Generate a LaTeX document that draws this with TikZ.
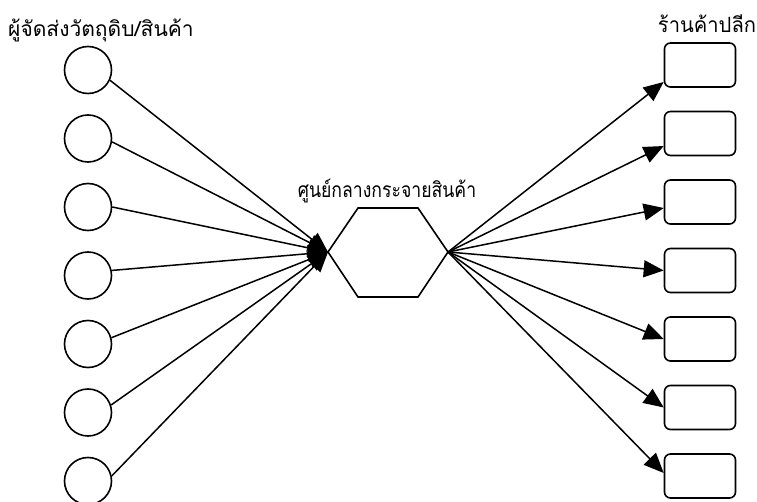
\documentclass[tikz,border=0pt]{standalone}
\usepackage{fontspec}
\newfontfamily\thaifont[Script=Thai]{Loma}
\usetikzlibrary{arrows.meta,calc}
\tikzset{
  src/.style={draw,circle,line width=1.6pt,minimum size=47pt,inner sep=0pt},
  shop/.style={draw,rounded corners=6pt,line width=1.6pt,minimum width=71pt,minimum height=44pt,inner sep=0pt},
  hexline/.style={line width=1.6pt},
  conn/.style={line width=1.5pt,-{Triangle[length=20pt,width=17pt]}},
  lbl/.style={font=\thaifont\fontsize{21}{24}\selectfont,anchor=base,inner sep=0pt}
}
\begin{document}
\begin{tikzpicture}[x=1pt,y=-1pt]
\useasboundingbox (0,0) rectangle (757,502);
% labels
\node[lbl] (tsrc) at (101,37) {ผู้จัดส่งวัตถุดิบ/สินค้า};
\node[lbl] (tshop) at (707,33) {\scalebox{0.96}[1]{ร้านค้าปลีก}};
\node[lbl] (thub) at (387,198) {\scalebox{0.84}[1]{ศูนย์กลางกระจายสินค้า}};
% hexagon
\coordinate (hexW) at (328,252);
\coordinate (hexE) at (448,252);
\draw[hexline] (hexW) -- (358,208) -- (418,208) -- (hexE) -- (418,297) -- (358,297) -- cycle;
% sources
\foreach \i/\y in {1/70,2/138.5,3/207,4/275.5,5/344,6/412.5,7/481}{
  \node[src] (c\i) at (88,\y) {};
}
% shops
\foreach \i/\y in {1/65,2/133.5,3/202,4/270.5,5/339,6/407.5,7/476}{
  \node[shop] (r\i) at (700,\y) {};
}
% connectors in
\foreach \i/\a in {1/-25,2/-8,3/0,4/12,5/15,6/18,7/12}{
  \draw[conn] (c\i.\a) -- (hexW);
}
% connectors out
\foreach \i/\o in {1/17,2/12.5,3/6,4/0,5/0,6/0,7/-3}{
  \draw[conn] (hexE) -- ($(r\i.west)+(0,\o)$);
}
\end{tikzpicture}
\end{document}
